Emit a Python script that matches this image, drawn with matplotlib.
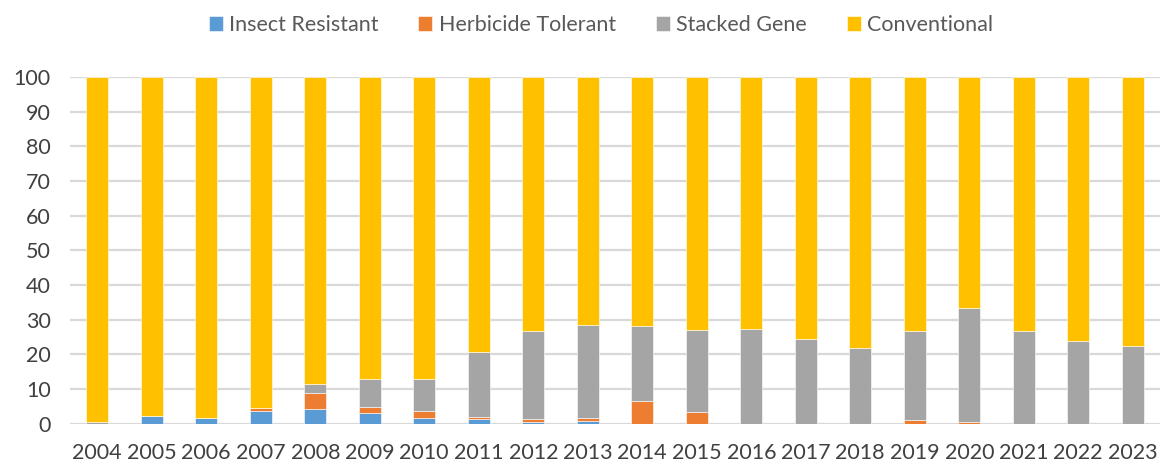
import matplotlib
matplotlib.use("Agg")
import matplotlib.pyplot as plt
import numpy as np

years = [str(y) for y in range(2004, 2024)]
insect_resistant = [0.0, 2.2, 1.7, 3.6, 4.3, 2.9, 1.7, 1.25, 0.4, 0.6, 0.0, 0.0, 0.0, 0.0, 0.0, 0.0, 0.0, 0.0, 0.0, 0.0]
herbicide_tolerant = [0.0, 0.0, 0.0, 1.0, 4.4, 1.9, 1.8, 0.5, 0.8, 1.0, 6.4, 3.2, 0.0, 0.0, 0.0, 1.0, 0.5, 0.0, 0.0, 0.0]
stacked_gene = [0.3, 0.0, 0.0, 0.0, 2.7, 8.1, 9.3, 18.8, 25.5, 26.8, 21.8, 23.7, 27.2, 24.4, 21.7, 25.8, 32.7, 26.6, 23.8, 22.4]
conventional = [100 - a - b - c for a, b, c in zip(insect_resistant, herbicide_tolerant, stacked_gene)]

series = [
    ("Insect Resistant", insect_resistant, "#5B9BD5"),
    ("Herbicide Tolerant", herbicide_tolerant, "#ED7D31"),
    ("Stacked Gene", stacked_gene, "#A5A5A5"),
    ("Conventional", conventional, "#FFC000"),
]

plt.rcParams['font.family'] = ['Lato', 'DejaVu Sans']

fig = plt.figure(figsize=(11.67, 4.63), dpi=100)
ax = fig.add_axes([70/1167, 1 - 423.5/463, (1160-70)/1167, (423.5-77)/463])

x = np.arange(len(years))
bottom = np.zeros(len(years))
for name, vals, col in series:
    ax.bar(x, vals, bottom=bottom, width=0.41, color=col, label=name,
           edgecolor="white", linewidth=0.4, zorder=3)
    bottom += np.array(vals)

ax.set_xlim(-0.5, len(years) - 0.5)
ax.set_ylim(0, 100)
ax.set_yticks(range(0, 101, 10))
ax.set_xticks(x)
ax.set_xticklabels(years)
ax.grid(axis='y', color='#D9D9D9', linewidth=1.6, zorder=0)
ax.set_axisbelow(True)
for s in ax.spines.values():
    s.set_visible(False)
ax.tick_params(axis='both', length=0, labelsize=15.5, labelcolor='#404040')
ax.tick_params(axis='x', pad=14)
ax.tick_params(axis='y', pad=14)

fig.legend(loc='center', bbox_to_anchor=(0.515, 1 - 25/463), ncol=4, frameon=False,
           fontsize=15.5, handlelength=0.65, handleheight=0.7, handletextpad=0.3,
           columnspacing=1.85, labelcolor='#595959')

fig.savefig("out.png", dpi=100)
